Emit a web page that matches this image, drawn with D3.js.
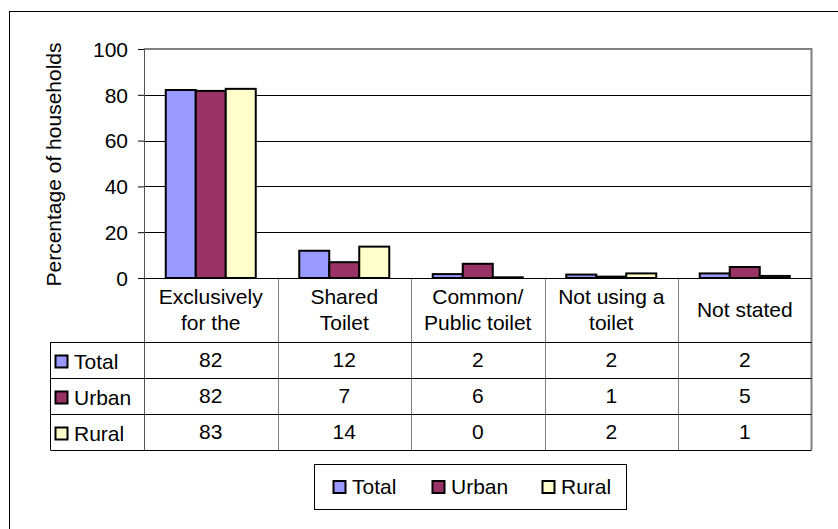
<!DOCTYPE html>
<html><head><meta charset="utf-8">
<script src="https://cdn.jsdelivr.net/npm/d3@7"></script>
<style>
body{margin:0;background:#fff}
svg{display:block}
text{font-family:Arial,"Liberation Sans",sans-serif;font-size:21px;fill:#000}
</style>
</head><body>
<svg id="chart" width="838" height="529"></svg>
<script>
// ---- data ----
const categories = ["Exclusively\nfor the", "Shared\nToilet", "Common/\nPublic toilet", "Not using a\ntoilet", "Not stated"];
const seriesNames = ["Total", "Urban", "Rural"];
const totalValues = [82.1, 11.9, 1.7, 1.5, 2.0];
const urbanValues = [81.7, 6.9, 6.2, 0.6, 4.8];
const ruralValues = [82.6, 13.7, 0.3, 2.0, 0.9];
const yTicks = [0, 20, 40, 60, 80, 100];
const yTitle = "Percentage of households";

// ---- styles ----
const colors = {Total: "#9999FF", Urban: "#993366", Rural: "#FFFFCC"};
const seriesValues = {Total: totalValues, Urban: urbanValues, Rural: ruralValues};

const svg = d3.select("#chart");
const L = 144, R = 811.5, T = 49, B = 278;
const rowH = 36, headerBottom = 342, tableLeft = 50.5;

// outer frame
svg.append("rect").attr("x", 9.5).attr("y", 11.5).attr("width", 900).attr("height", 600)
  .attr("fill", "none").attr("stroke", "#000").attr("stroke-width", 1);

const x = d3.scaleBand().domain(d3.range(categories.length)).range([L, R]).paddingInner(0).paddingOuter(0);
const x1 = d3.scaleBand().domain(seriesNames).range([0, x.bandwidth()]).paddingInner(0).paddingOuter(0.725);
const y = d3.scaleLinear().domain([0, 100]).range([B, T]);

// gridlines
svg.append("g").selectAll("line").data(yTicks.filter(t => t > 0 && t < 100)).join("line")
  .attr("x1", L).attr("x2", R).attr("y1", d => Math.round(y(d)) + 0.5).attr("y2", d => Math.round(y(d)) + 0.5)
  .attr("stroke", "#000").attr("stroke-width", 1);
// plot border (top, right)
svg.append("path").attr("d", `M${L},${T}H${R}V${B}`).attr("fill", "none").attr("stroke", "#808080").attr("stroke-width", 2);

// bars
const g = svg.append("g");
categories.forEach((c, i) => {
  g.selectAll(null).data(seriesNames).join("rect")
    .attr("x", s => x(i) + x1(s))
    .attr("width", x1.bandwidth())
    .attr("y", s => y(seriesValues[s][i]))
    .attr("height", s => B - y(seriesValues[s][i]))
    .attr("fill", s => colors[s]).attr("stroke", "#000").attr("stroke-width", 2);
});

// y axis
const yAxis = d3.axisLeft(y).tickValues(yTicks).tickSize(6).tickPadding(10).tickFormat(d3.format("d"));
const ax = svg.append("g").attr("transform", `translate(${L},0)`).call(yAxis);
ax.select(".domain").remove();
ax.selectAll(".tick line").attr("stroke", "#000");
ax.selectAll(".tick text").attr("font-size", 21).attr("font-family", "Arial, 'Liberation Sans', sans-serif").attr("dy", "0.35em");
svg.append("line").attr("x1", L + 0.5).attr("x2", L + 0.5).attr("y1", T).attr("y2", headerBottom + 3 * rowH)
  .attr("stroke", "#555").attr("stroke-width", 1);

// y title
svg.append("text").attr("transform", `translate(61,${(T + B) / 2 + 1}) rotate(-90)`)
  .attr("text-anchor", "middle").text(yTitle);

// ---- data table ----
const tb = headerBottom + 3 * rowH;
// vertical lines
svg.append("g").selectAll("line").data(d3.range(1, categories.length + 1)).join("line")
  .attr("x1", i => (i < categories.length ? Math.round(x(i)) + 0.5 : R)).attr("x2", i => (i < categories.length ? Math.round(x(i)) + 0.5 : R))
  .attr("y1", B).attr("y2", tb)
  .attr("stroke", "#808080").attr("stroke-width", i => i < categories.length ? 1 : 2);
svg.append("line").attr("x1", tableLeft).attr("x2", tableLeft).attr("y1", headerBottom).attr("y2", tb).attr("stroke", "#000");
// horizontal lines
svg.append("g").selectAll("line").data(d3.range(4)).join("line")
  .attr("x1", tableLeft).attr("x2", R).attr("y1", r => headerBottom + r * rowH + 0.5).attr("y2", r => headerBottom + r * rowH + 0.5)
  .attr("stroke", "#000");
svg.append("line").attr("x1", L).attr("x2", R).attr("y1", B + 0.5).attr("y2", B + 0.5).attr("stroke", "#000");

// header labels
const headCy = (B + headerBottom) / 2;
categories.forEach((c, i) => {
  const lines = c.split("\n");
  const t = svg.append("text").attr("text-anchor", "middle");
  lines.forEach((ln, k) => {
    t.append("tspan").attr("x", x(i) + x.bandwidth() / 2)
      .attr("y", headCy + 7 + (k - (lines.length - 1) / 2) * 26.5).text(ln);
  });
});

// rows
seriesNames.forEach((s, r) => {
  const cy = headerBottom + r * rowH + rowH / 2;
  svg.append("rect").attr("x", 55.5).attr("y", cy - 4.5).attr("width", 12).attr("height", 12)
    .attr("fill", colors[s]).attr("stroke", "#000").attr("stroke-width", 2);
  svg.append("text").attr("x", 74).attr("y", cy + 9).text(s);
  svg.append("g").selectAll("text").data(seriesValues[s]).join("text")
    .attr("x", (d, i) => x(i) + x.bandwidth() / 2).attr("y", cy + 7.3)
    .attr("text-anchor", "middle").text(d => Math.round(d));
});

// ---- legend ----
const lg = svg.append("g");
lg.append("rect").attr("x", 314.5).attr("y", 464.5).attr("width", 312).attr("height", 45)
  .attr("fill", "#fff").attr("stroke", "#000");
const legendX = d3.scaleOrdinal().domain(seriesNames).range([333.5, 432.5, 542.5]);
seriesNames.forEach(s => {
  lg.append("rect").attr("x", legendX(s)).attr("y", 481).attr("width", 12).attr("height", 12)
    .attr("fill", colors[s]).attr("stroke", "#000").attr("stroke-width", 2);
  lg.append("text").attr("x", legendX(s) + 18.5).attr("y", 494).text(s);
});
</script>
</body></html>
